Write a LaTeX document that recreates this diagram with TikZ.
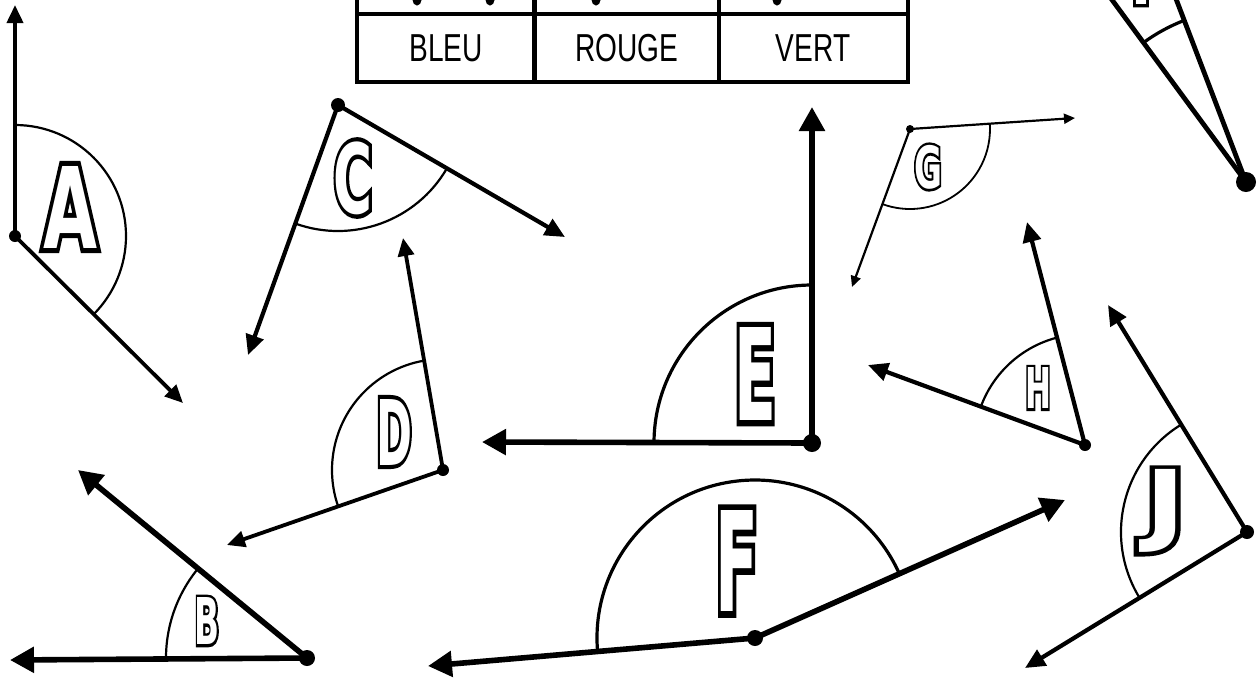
\documentclass[tikz,border=0pt]{standalone}
\usepackage{fontspec}
\usepackage{graphicx}
\usetikzlibrary{arrows.meta}
\newfontfamily\lfo{DejaVu Sans Condensed Bold}[FakeBold=9]
\newfontfamily\lfp{DejaVu Sans Condensed Bold}
\newfontfamily\tabfont{Liberation Sans}
\newcommand\outlet[3]{\resizebox*{#1}{#2}{\fontsize{50}{50}\selectfont\rlap{\lfo #3}\textcolor{white}{\lfp #3}}}
\newcommand\tabtxt[1]{\scalebox{0.72}[1]{\tabfont\fontsize{19.5}{20}\selectfont #1}}
\tikzset{
  rayK/.style={line width=2.8pt, -{Triangle[length=12pt,width=12.5pt]}},
  rayM/.style={line width=2.1pt, -{Triangle[length=10pt,width=9pt]}},
  rayN/.style={line width=1.9pt, -{Triangle[length=9pt,width=8pt]}},
  rayT/.style={line width=1.1pt, -{Triangle[length=5.5pt,width=5pt]}},
  rayI/.style={line width=2.4pt},
  arcl/.style={line width=1.1pt},
  arck/.style={line width=1.6pt},
  dot/.style={circle, fill=black, inner sep=0pt, minimum size=#1},
  lettre/.style={inner sep=0pt, outer sep=0pt},
  tabline/.style={line width=2.2pt},
  tabcell/.style={inner sep=0pt, anchor=center},
}
\begin{document}
\begin{tikzpicture}[x=0.5pt,y=-0.5pt]
\useasboundingbox (0,0) rectangle (1260,677);
\clip (0,0) rectangle (1260,677);

% ---------- table ----------
\draw[tabline] (357,-20) -- (357,82) -- (908,82) -- (908,-20);
\draw[tabline] (357,14) -- (908,14);
\draw[tabline] (534.5,-20) -- (534.5,82);
\draw[tabline] (719,-20) -- (719,82);
\fill (417,0) ellipse [x radius=4.5, y radius=5.5];
\fill (490,0) ellipse [x radius=4.5, y radius=5.5];
\fill (596,0) ellipse [x radius=4.5, y radius=5.5];
\fill (777,0) ellipse [x radius=4.5, y radius=5.5];
\node[tabcell] (bleu) at (446,48) {\tabtxt{BLEU}};
\node[tabcell] (rouge) at (627,48) {\tabtxt{ROUGE}};
\node[tabcell] (vert) at (813,48) {\tabtxt{VERT}};

% ---------- A ----------
\coordinate (VA) at (15,236);
\coordinate (tA1) at (15,5);
\coordinate (tA2) at (183,403);
\draw[arcl] ([shift={(-90:111)}]VA) arc[start angle=-90, end angle=44.8, radius=111];
\draw[rayN] (VA) -- (tA1);
\draw[rayN] (VA) -- (tA2);
\node[dot=6pt] (dA) at (VA) {};
\node[lettre] (lA) at (70,207) {\outlet{27pt}{41pt}{A}};

% ---------- B ----------
\coordinate (VB) at (307,658);
\coordinate (tB1) at (10,660);
\coordinate (tB2) at (78,470);
\draw[arcl] ([shift={(179.6:141)}]VB) arc[start angle=179.6, end angle=219.4, radius=141];
\draw[rayK] (VB) -- (tB1);
\draw[rayK] (VB) -- (tB2);
\node[dot=8pt] (dB) at (VB) {};
\node[lettre] (lB) at (207,621) {\outlet{12.5pt}{23.5pt}{B}};

% ---------- C ----------
\coordinate (VC) at (338,105);
\coordinate (tC1) at (248,355);
\coordinate (tC2) at (565,237);
\draw[arcl] ([shift={(30.2:126)}]VC) arc[start angle=30.2, end angle=109.8, radius=126];
\draw[rayM] (VC) -- (tC1);
\draw[rayM] (VC) -- (tC2);
\node[dot=7pt] (dC) at (VC) {};
\node[lettre] (lC) at (353,178) {\outlet{19.5pt}{36.5pt}{C}};

% ---------- D ----------
\coordinate (VD) at (443,470);
\coordinate (tD1) at (403,238);
\coordinate (tD2) at (227,545);
\draw[arcl] ([shift={(160.9:111)}]VD) arc[start angle=160.9, end angle=260.2, radius=111];
\draw[rayN] (VD) -- (tD1);
\draw[rayN] (VD) -- (tD2);
\node[dot=6pt] (dD) at (VD) {};
\node[lettre] (lD) at (394,432) {\outlet{18pt}{33pt}{D}};

% ---------- E ----------
\coordinate (VE) at (812,443);
\coordinate (tE1) at (812,107);
\coordinate (tE2) at (482,442);
\draw[arck] ([shift={(180:158)}]VE) arc[start angle=180, end angle=270, radius=158];
\draw[rayK] (VE) -- (tE1);
\draw[rayK] (VE) -- (tE2);
\node[dot=9pt] (dE) at (VE) {};
\node[lettre] (lE) at (755,374) {\outlet{21pt}{46.5pt}{E}};

% ---------- F ----------
\coordinate (VF) at (755,638);
\coordinate (tF1) at (428,666);
\coordinate (tF2) at (1065,500);
\draw[arck] ([shift={(175.1:158)}]VF) arc[start angle=175.1, end angle=336, radius=158];
\draw[rayK] (VF) -- (tF1);
\draw[rayK] (VF) -- (tF2);
\node[dot=8pt] (dF) at (VF) {};
\node[lettre] (lF) at (737,561) {\outlet{21.5pt}{50.5pt}{F}};

% ---------- G ----------
\coordinate (VG) at (910,129);
\coordinate (tG1) at (1075,118);
\coordinate (tG2) at (852,287);
\draw[line width=0.9pt] ([shift={(-3.8:80)}]VG) arc[start angle=-3.8, end angle=110.2, radius=80];
\draw[rayT] (VG) -- (tG1);
\draw[rayT] (VG) -- (tG2);
\node[dot=4pt] (dG) at (VG) {};
\node[lettre] (lG) at (928,167) {\outlet{14pt}{22pt}{G}};

% ---------- H ----------
\coordinate (VH) at (1085,445);
\coordinate (tH1) at (1027,222);
\coordinate (tH2) at (868,365);
\draw[arcl] ([shift={(200.2:111)}]VH) arc[start angle=200.2, end angle=255.4, radius=111];
\draw[rayM] (VH) -- (tH1);
\draw[rayM] (VH) -- (tH2);
\node[dot=6pt] (dH) at (VH) {};
\node[lettre] (lH) at (1038,388) {\outlet{13pt}{20.5pt}{H}};

% ---------- I ----------
\coordinate (VI) at (1246,182);
\coordinate (tI1) at (1068,-60);
\coordinate (tI2) at (1139,-98);
\draw[arck] ([shift={(233.6:173)}]VI) arc[start angle=233.6, end angle=249.2, radius=173];
\draw[rayI] (VI) -- (tI1);
\draw[rayI] (VI) -- (tI2);
\node[dot=10pt] (dI) at (VI) {};
\node[lettre] (lI) at (1141,-24) {\outlet{10pt}{28pt}{I}};

% ---------- J ----------
\coordinate (VJ) at (1247,532);
\coordinate (tJ1) at (1108,305);
\coordinate (tJ2) at (1025,668);
\draw[arcl] ([shift={(148.5:126)}]VJ) arc[start angle=148.5, end angle=238.5, radius=126];
\draw[rayM] (VJ) -- (tJ1);
\draw[rayM] (VJ) -- (tJ2);
\node[dot=7pt] (dJ) at (VJ) {};
\node[lettre] (lJ) at (1165,511) {\outlet{20pt}{41.5pt}{J}};
\end{tikzpicture}
\end{document}
